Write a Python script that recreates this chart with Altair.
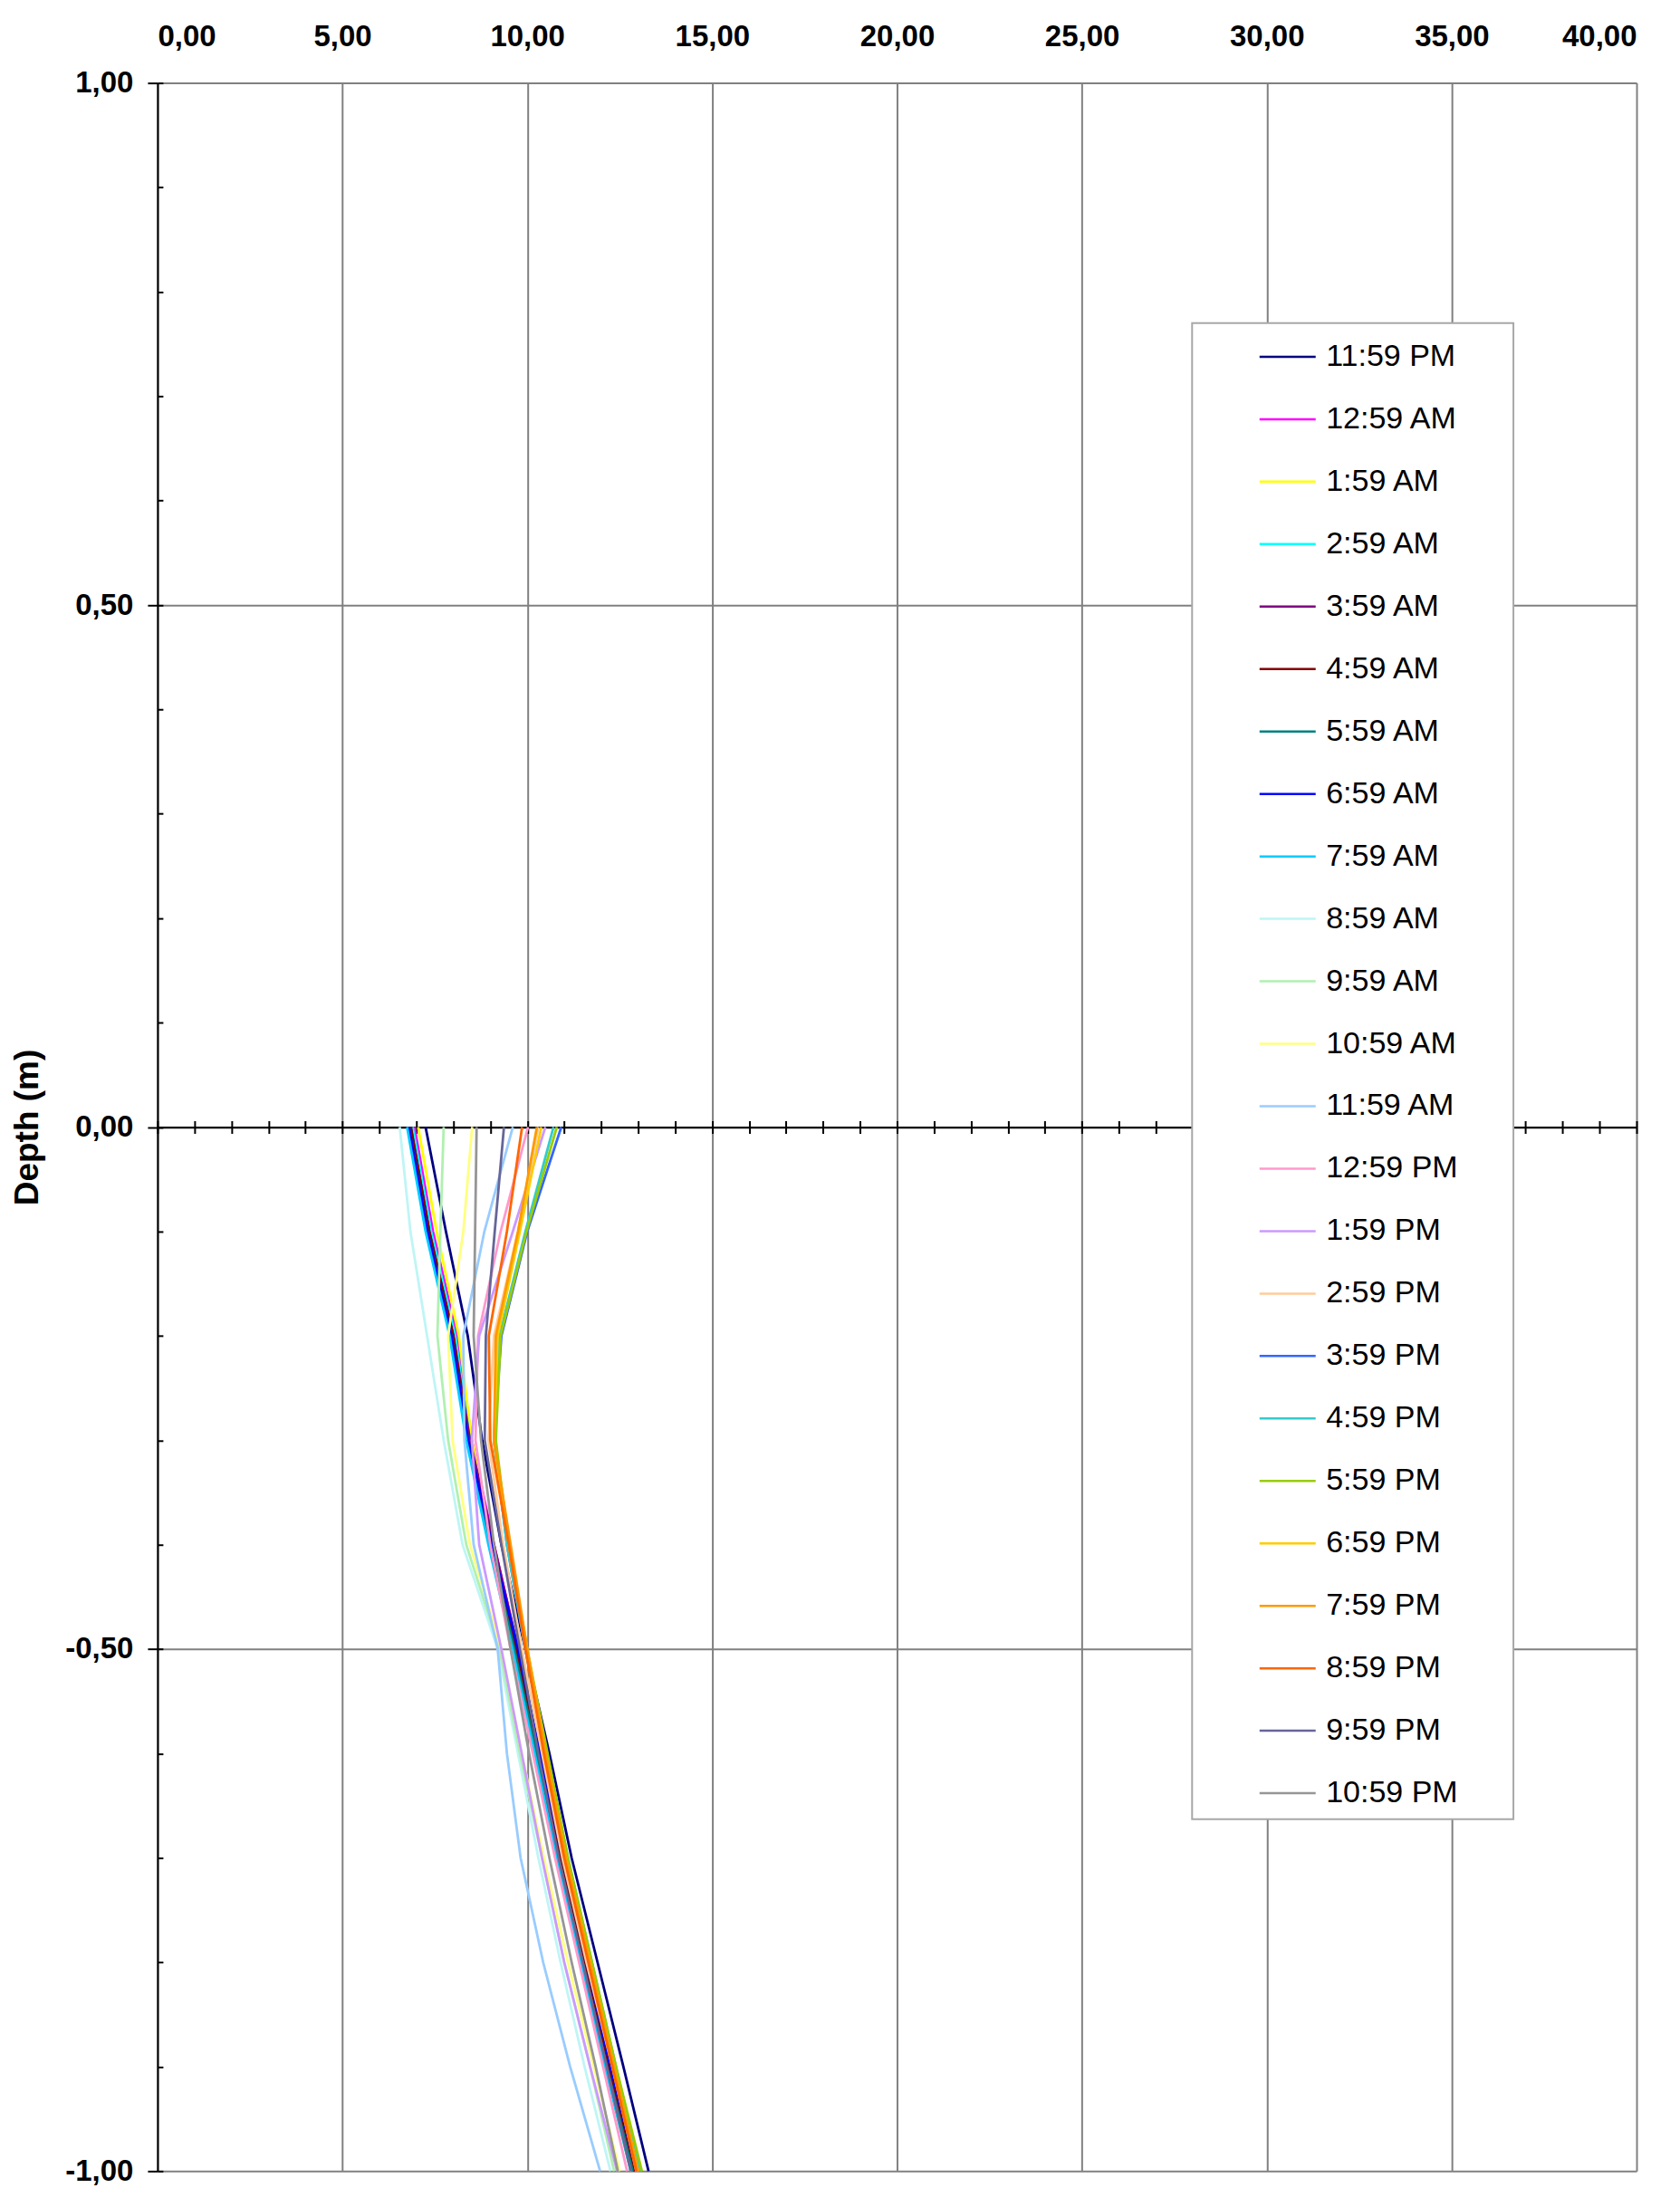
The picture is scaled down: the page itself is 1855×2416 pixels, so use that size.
import altair as alt
import pandas as pd

# ---------------- data ----------------
SERIES = ["11:59 PM", "12:59 AM", "1:59 AM", "2:59 AM", "3:59 AM", "4:59 AM",
          "5:59 AM", "6:59 AM", "7:59 AM", "8:59 AM", "9:59 AM", "10:59 AM",
          "11:59 AM", "12:59 PM", "1:59 PM", "2:59 PM", "3:59 PM", "4:59 PM",
          "5:59 PM", "6:59 PM", "7:59 PM", "8:59 PM", "9:59 PM", "10:59 PM"]

COLORS = ["#000080", "#FF00FF", "#FFFF00", "#00FFFF", "#800080", "#800000",
          "#008080", "#0000FF", "#00CCFF", "#BFF5F5", "#B0F0B0", "#FFFF80",
          "#99CCFF", "#FF99CC", "#CC99FF", "#FFCC99", "#3366FF", "#33CCCC",
          "#99CC00", "#FFCC00", "#FF9900", "#FF6600", "#666699", "#969696"]

DEPTHS = [0.0, -0.1, -0.2, -0.3, -0.4, -0.5, -0.6, -0.7, -0.8, -0.9, -1.0]

T_1159PM = [7.25, 7.80, 8.39, 8.78, 9.30, 9.95, 10.60, 11.20, 11.90, 12.60, 13.28]
T_1259AM = [6.95, 7.45, 8.10, 8.50, 9.10, 9.75, 10.30, 10.85, 11.50, 12.15, 12.85]
T_0159AM = [7.05, 7.55, 8.15, 8.50, 9.05, 9.70, 10.25, 10.80, 11.45, 12.10, 12.80]
T_0259AM = [6.90, 7.40, 8.05, 8.45, 9.05, 9.70, 10.30, 10.85, 11.50, 12.15, 12.80]
T_0359AM = [6.85, 7.35, 8.00, 8.45, 9.10, 9.75, 10.30, 10.90, 11.55, 12.20, 12.90]
T_0459AM = [6.85, 7.35, 8.00, 8.40, 9.05, 9.70, 10.30, 10.90, 11.55, 12.20, 12.90]
T_0559AM = [6.80, 7.30, 7.95, 8.40, 9.00, 9.65, 10.25, 10.85, 11.50, 12.15, 12.85]
T_0659AM = [6.80, 7.30, 7.95, 8.40, 9.05, 9.75, 10.35, 10.95, 11.60, 12.25, 12.95]
T_0759AM = [6.75, 7.25, 7.90, 8.35, 8.95, 9.60, 10.20, 10.80, 11.45, 12.10, 12.80]
T_0859AM = [6.55, 6.84, 7.29, 7.74, 8.25, 9.20, 9.75, 10.30, 10.90, 11.55, 12.25]
T_0959AM = [7.74, 7.65, 7.57, 7.86, 8.35, 9.25, 9.80, 10.40, 11.00, 11.70, 12.35]
T_1059AM = [8.51, 8.27, 7.86, 7.98, 8.45, 9.30, 9.85, 10.45, 11.10, 11.80, 12.50]
T_1159AM = [9.61, 8.84, 8.27, 8.30, 8.55, 9.20, 9.45, 9.82, 10.43, 11.16, 11.97]
T_1259PM = [10.02, 9.28, 8.67, 8.60, 9.00, 9.55, 10.15, 10.75, 11.40, 12.05, 12.70]
T_0159PM = [10.49, 9.61, 8.70, 8.50, 8.70, 9.30, 9.85, 10.40, 11.00, 11.70, 12.43]
T_0259PM = [10.30, 9.75, 9.10, 8.95, 9.35, 9.85, 10.40, 10.95, 11.60, 12.30, 12.95]
T_0359PM = [10.92, 10.00, 9.30, 9.10, 9.45, 9.95, 10.50, 11.05, 11.70, 12.35, 13.00]
T_0459PM = [10.71, 9.95, 9.25, 9.10, 9.45, 9.95, 10.50, 11.10, 11.75, 12.40, 13.05]
T_0559PM = [10.80, 9.98, 9.28, 9.15, 9.50, 10.00, 10.55, 11.10, 11.75, 12.40, 13.10]
T_0659PM = [10.38, 9.80, 9.20, 9.10, 9.50, 10.00, 10.50, 11.05, 11.70, 12.35, 13.00]
T_0759PM = [10.26, 9.75, 9.15, 9.10, 9.55, 10.00, 10.50, 11.05, 11.70, 12.35, 13.00]
T_0859PM = [9.86, 9.45, 8.96, 9.00, 9.50, 9.95, 10.45, 11.00, 11.65, 12.30, 12.95]
T_0959PM = [9.37, 9.12, 8.88, 8.85, 9.30, 9.80, 10.30, 10.85, 11.50, 12.15, 12.80]
T_1059PM = [8.63, 8.59, 8.55, 8.75, 9.10, 9.55, 10.05, 10.60, 11.20, 11.85, 12.45]

PROFILES = [T_1159PM, T_1259AM, T_0159AM, T_0259AM, T_0359AM, T_0459AM,
            T_0559AM, T_0659AM, T_0759AM, T_0859AM, T_0959AM, T_1059AM,
            T_1159AM, T_1259PM, T_0159PM, T_0259PM, T_0359PM, T_0459PM,
            T_0559PM, T_0659PM, T_0759PM, T_0859PM, T_0959PM, T_1059PM]

X_LABEL_VALUES = [0, 5, 10, 15, 20, 25, 30, 35, 40]
X_MINOR_VALUES = list(range(0, 41))
Y_LABEL_VALUES = [1.0, 0.5, 0.0, -0.5, -1.0]
Y_MINOR_VALUES = [round(-1.0 + 0.1 * i, 1) for i in range(21)]

# legend frame (in data units)
LEGEND_BOX = {"x": [27.98], "x2": [36.67], "y": [0.770], "y2": [-0.663]}

rows = []
for name, prof in zip(SERIES, PROFILES):
    for i, (d, t) in enumerate(zip(DEPTHS, prof)):
        rows.append({"series": name, "depth": d, "temp": t, "idx": i})
df = pd.DataFrame(rows)
box_df = pd.DataFrame(LEGEND_BOX)

# ---------------- chart ----------------
W, H = 1634, 2307
FONT = "Liberation Sans"
x_scale = alt.Scale(domain=[0, 40], nice=False, zero=False)
y_scale = alt.Scale(domain=[-1, 1], nice=False, zero=False)
LABEL_EXPR = "replace(replace(format(datum.value, '.2f'), '.', ','), '\u2212', '-')"

box = alt.Chart(box_df).mark_rect(fill="white", stroke="#A8A8A8", strokeWidth=2).encode(
    x=alt.X("x:Q", scale=x_scale, axis=alt.Axis(
        orient="top", values=X_LABEL_VALUES, labelExpr=LABEL_EXPR,
        labelFont=FONT, labelFontSize=33, labelFontWeight="bold", labelColor="black",
        labelPadding=41, labelBaseline="alphabetic", ticks=False, tickSize=0,
        domain=False, grid=True, gridColor="#808080", gridWidth=2, gridOpacity=1,
        title=None)),
    x2="x2:Q",
    y=alt.Y("y:Q", scale=y_scale, axis=alt.Axis(
        orient="left", values=Y_LABEL_VALUES, labelExpr=LABEL_EXPR,
        labelFont=FONT, labelFontSize=33, labelFontWeight="bold", labelColor="black",
        labelPadding=16, ticks=True, tickSize=11, tickColor="black", tickWidth=2,
        domain=True, domainColor="black", domainWidth=2,
        grid=True, gridColor="#808080", gridWidth=2, gridOpacity=1,
        title="Depth (m)", titleFont=FONT, titleFontSize=37, titleFontWeight="bold",
        titleColor="black", titlePadding=22)),
    y2="y2:Q",
)

lines = alt.Chart(df).mark_line(strokeWidth=2.8).encode(
    x=alt.X("temp:Q", scale=x_scale, axis=alt.Axis(
        orient="bottom", offset=-H / 2, values=X_MINOR_VALUES, labels=False,
        ticks=True, tickSize=7, tickColor="black", tickWidth=2,
        domain=True, domainColor="black", domainWidth=2, grid=False, title=None)),
    y=alt.Y("depth:Q", scale=y_scale, axis=alt.Axis(
        orient="left", offset=-6, values=Y_MINOR_VALUES, labels=False,
        ticks=True, tickSize=6, tickColor="black", tickWidth=2,
        domain=False, grid=False, title=None)),
    color=alt.Color("series:N", scale=alt.Scale(domain=SERIES, range=COLORS),
                    legend=alt.Legend(
                        orient="none", legendX=1216, legendY=270, title=None,
                        symbolType="stroke", symbolSize=3844, symbolStrokeWidth=2.5,
                        labelFont=FONT, labelFontSize=34, labelColor="black",
                        labelOffset=10, rowPadding=19, padding=0, labelLimit=400)),
    order=alt.Order("idx:Q"),
)

ticks_up = alt.Chart(box_df).mark_point(opacity=0).encode(
    x=alt.X("x:Q", scale=x_scale, axis=alt.Axis(
        orient="top", offset=-H / 2, values=X_MINOR_VALUES, labels=False,
        ticks=True, tickSize=7, tickColor="black", tickWidth=2,
        domain=False, grid=False, title=None)),
    y=alt.Y("y:Q", scale=y_scale, axis=None),
)

chart = alt.layer(box, lines, ticks_up).resolve_axis(
    x="independent", y="independent"
).properties(
    width=W, height=H,
    autosize=alt.AutoSizeParams(type="none"),
    padding={"left": 166, "top": 83, "right": 40, "bottom": 18},
).configure_view(strokeWidth=0)

chart.save("out.html", embed_options={"renderer": "svg", "actions": False})
